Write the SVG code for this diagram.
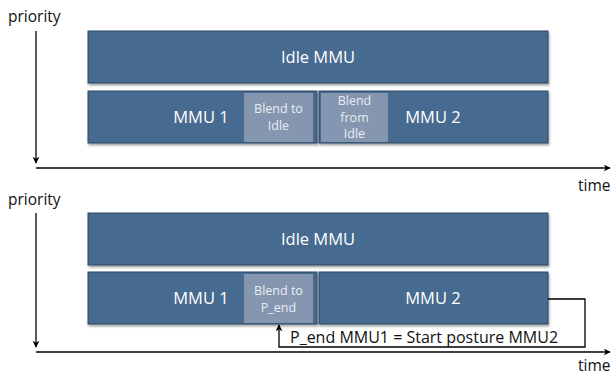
<svg xmlns="http://www.w3.org/2000/svg" width="612" height="376" viewBox="0 0 612 376">
  <defs>
    <marker id="arr" viewBox="0 0 10 10" refX="9" refY="5" markerWidth="7" markerHeight="7" orient="auto-start-reverse" markerUnits="userSpaceOnUse">
      <path d="M0,0 L10,5 L0,10 L3,5 z" fill="#000"/>
    </marker>
    <filter id="shadow" x="-5%" y="-10%" width="110%" height="130%">
      <feDropShadow dx="1" dy="2" stdDeviation="1" flood-color="#000" flood-opacity="0.35"/>
    </filter>
  </defs>
  <style>
    .box { fill: #466b90; stroke: #2c4763; stroke-width: 1; filter: url(#shadow); }
    .blend { fill: #8496b0; }
    .t { font-family: "Open Sans", "Liberation Sans", sans-serif; fill: #fff; text-anchor: middle; }
    .big { font-size: 16.5px; }
    .small { font-size: 12.5px; fill: #e8edf3; }
    .lbl { font-family: "Open Sans", "Liberation Sans", sans-serif; font-size: 15.5px; fill: #111; }
    .axis { stroke: #000; stroke-width: 1.3; fill: none; }
  </style>
  <rect width="612" height="376" fill="#fff"/>

  <!-- upper timeline -->
  <g id="axes-top">
    <text class="lbl" x="8" y="22">priority</text>
    <line class="axis" x1="36" y1="31" x2="36" y2="163" marker-end="url(#arr)"/>
    <line class="axis" x1="36" y1="168" x2="610" y2="168" marker-end="url(#arr)"/>
    <text class="lbl" x="578" y="191">time</text>
  </g>
  <g id="idle-top">
    <rect class="box" x="88" y="31" width="460" height="52"/>
    <text class="t big" x="318" y="63">Idle MMU</text>
  </g>
  <g id="mmu1-top">
    <rect class="box" x="88" y="91" width="229" height="52"/>
    <text class="t big" x="201" y="123">MMU 1</text>
  </g>
  <g id="blend-to-idle">
    <rect class="blend" x="244" y="93" width="69" height="49"/>
    <text class="t small" x="278.5" y="113">Blend to</text>
    <text class="t small" x="278.5" y="130">Idle</text>
  </g>
  <g id="mmu2-top">
    <rect class="box" x="319" y="91" width="229" height="52"/>
    <text class="t big" x="433" y="123">MMU 2</text>
  </g>
  <g id="blend-from-idle">
    <rect class="blend" x="321" y="93" width="67" height="49"/>
    <text class="t small" x="354.5" y="105">Blend</text>
    <text class="t small" x="354.5" y="122">from</text>
    <text class="t small" x="354.5" y="138">Idle</text>
  </g>

  <!-- lower timeline -->
  <g id="axes-bottom">
    <text class="lbl" x="8" y="205">priority</text>
    <line class="axis" x1="36" y1="213" x2="36" y2="347" marker-end="url(#arr)"/>
    <line class="axis" x1="36" y1="352" x2="610" y2="352" marker-end="url(#arr)"/>
    <text class="lbl" x="578" y="371">time</text>
  </g>
  <g id="idle-bottom">
    <rect class="box" x="88" y="213" width="460" height="52"/>
    <text class="t big" x="318" y="245">Idle MMU</text>
  </g>
  <g id="mmu1-bottom">
    <rect class="box" x="88" y="272" width="229" height="52"/>
    <text class="t big" x="201" y="304">MMU 1</text>
  </g>
  <g id="blend-to-pend">
    <rect class="blend" x="244" y="274" width="69" height="49"/>
    <text class="t small" x="278.5" y="295">Blend to</text>
    <text class="t small" x="278.5" y="312">P_end</text>
  </g>
  <g id="mmu2-bottom">
    <rect class="box" x="319" y="272" width="229" height="52"/>
    <text class="t big" x="433" y="304">MMU 2</text>
  </g>

  <g id="connectors">
    <polyline class="axis" points="548,299 585,299 585,347 279,347 279,325" marker-end="url(#arr)"/>
    <text class="lbl" x="290" y="343" style="font-size:16px">P_end MMU1 = Start posture MMU2</text>
  </g>
</svg>
